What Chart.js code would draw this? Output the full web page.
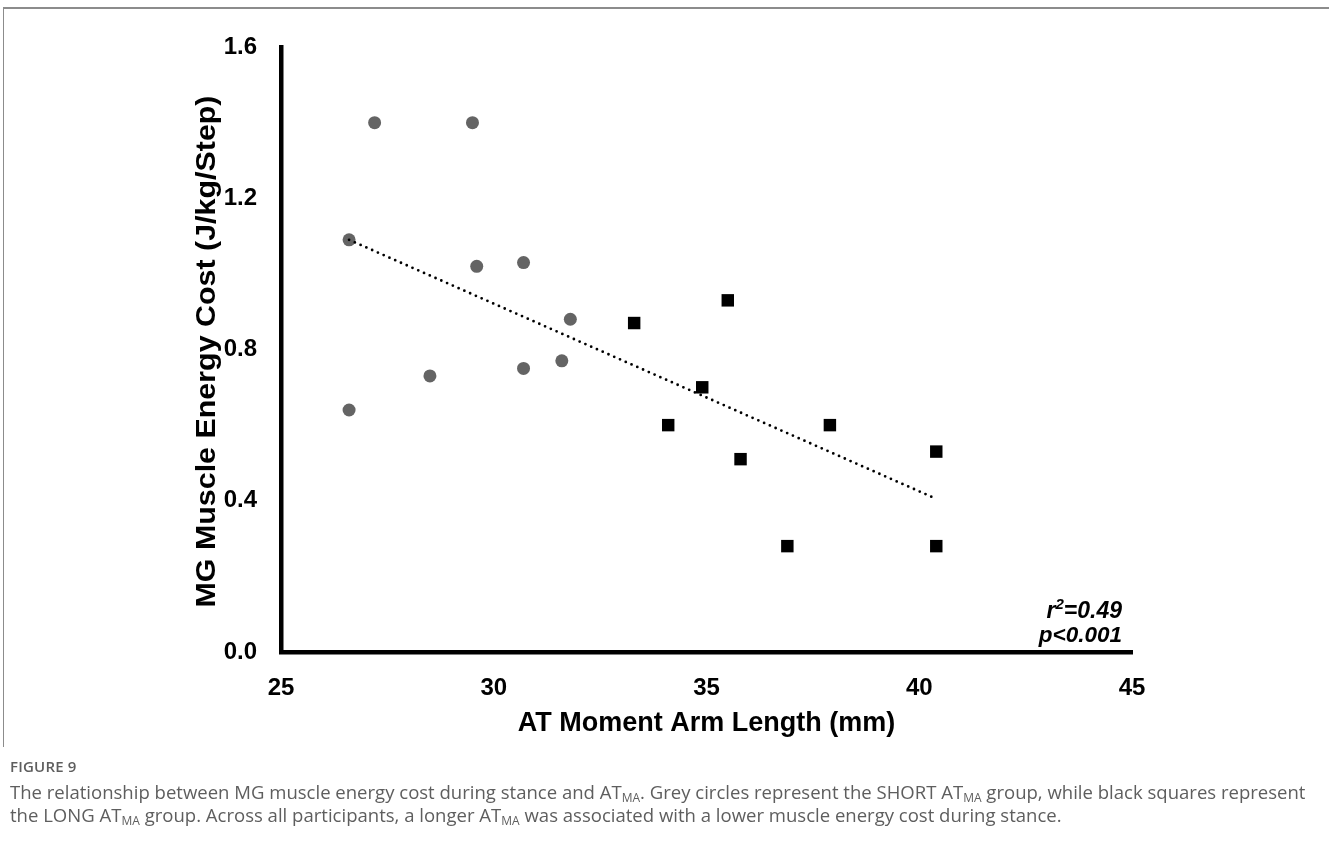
<!DOCTYPE html>
<html>
<head>
<meta charset="utf-8">
<script src="https://cdn.jsdelivr.net/npm/chart.js@4.4.0/dist/chart.umd.min.js"></script>
<style>
    body { margin: 0; background: #fff; width: 1329px; height: 843px; overflow: hidden; position: relative; font-family: 'Open Sans', sans-serif; }
    #frameTop { position: absolute; left: 3px; top: 7px; width: 1326px; height: 2px; background: #8c8c8c; }
    #frameLeft { position: absolute; left: 3px; top: 7px; width: 1px; height: 740px; background: #8c8c8c; }
    #wrap { position: absolute; left: 0; top: 0; width: 1329px; height: 760px; }
    #caption { position: absolute; left: 10px; top: 755px; color: #5e5e5e; }
    .fig { font-size: 15px; font-weight: 600; letter-spacing: 0.2px; line-height: 22px; margin-bottom: 3px; }
    .line { font-size: 18.55px; white-space: nowrap; line-height: 23px; }
    sub { font-size: 12px; vertical-align: -3px; line-height: 0; }
</style>
</head>
<body>
<div id="frameTop"></div>
<div id="frameLeft"></div>
<div id="wrap"><canvas id="chart" width="1329" height="760"></canvas></div>
<div id="caption">
    <div class="fig">FIGURE 9</div>
    <div class="line">The relationship between MG muscle energy cost during stance and AT<sub>MA</sub>. Grey circles represent the SHORT AT<sub>MA</sub> group, while black squares represent</div>
    <div class="line">the LONG AT<sub>MA</sub> group. Across all participants, a longer AT<sub>MA</sub> was associated with a lower muscle energy cost during stance.</div>
</div>
<script>
// Données
const shortX = [27.2, 29.5, 26.6, 29.6, 30.7, 31.8, 28.5, 30.7, 31.6, 26.6];
const shortY = [1.40, 1.40, 1.09, 1.02, 1.03, 0.88, 0.73, 0.75, 0.77, 0.64];
const longX = [33.3, 35.5, 34.9, 34.1, 37.9, 35.8, 40.4, 36.9, 40.4];
const longY = [0.87, 0.93, 0.70, 0.60, 0.60, 0.51, 0.53, 0.28, 0.28];
const trendX = [26.6, 40.3];
const trendY = [1.09, 0.41];
const xTicks = [25, 30, 35, 40, 45];
const yTicks = [0.0, 0.4, 0.8, 1.2, 1.6];
const xTitle = 'AT Moment Arm Length (mm)';
const yTitle = 'MG Muscle Energy Cost (J/kg/Step)';
const rText = ['r', '2', '=0.49'];
const pText = 'p<0.001';

function toPoints(xs, ys) {
    return xs.map((x, i) => ({ x: x, y: ys[i] }));
}

const FONT = '"Liberation Sans", Arial, sans-serif';

// Titres des axes et statistiques
const textPlugin = {
    id: 'textPlugin',
    afterDraw(chart) {
        const ctx = chart.ctx;
        const area = chart.chartArea;
        ctx.save();
        ctx.fillStyle = '#000';
        ctx.textBaseline = 'middle';
        ctx.textAlign = 'center';
        ctx.font = 'bold 27px ' + FONT;
        ctx.fillText(xTitle, (area.left + area.right) / 2, area.bottom + 72);

        // titre vertical, un peu étiré comme sur l'original
        ctx.save();
        ctx.font = 'bold 28px ' + FONT;
        ctx.translate(area.left - 74, (area.top + area.bottom) / 2 + 2);
        ctx.rotate(-Math.PI / 2);
        const tw = ctx.measureText(yTitle).width;
        ctx.scale(512 / tw, 1);
        ctx.fillText(yTitle, 0, 0);
        ctx.restore();

        // r² et p
        ctx.textBaseline = 'alphabetic';
        ctx.textAlign = 'left';
        const right = area.right - 10;
        const big = 'italic bold 23px ' + FONT;
        const small = 'italic bold 15px ' + FONT;
        ctx.font = big;
        const w0 = ctx.measureText(rText[0]).width;
        const w2 = ctx.measureText(rText[2]).width;
        ctx.font = small;
        const w1 = ctx.measureText(rText[1]).width;
        let x = right - (w0 + w1 + w2);
        const yR = area.bottom - 34;
        ctx.font = big;
        ctx.fillText(rText[0], x, yR);
        ctx.font = small;
        ctx.fillText(rText[1], x + w0, yR - 9);
        ctx.font = big;
        ctx.fillText(rText[2], x + w0 + w1, yR);
        ctx.font = 'italic bold 22.5px ' + FONT;
        ctx.textAlign = 'right';
        ctx.fillText(pText, right, area.bottom - 10);
        ctx.restore();
    }
};

const ctx = document.getElementById('chart').getContext('2d');
new Chart(ctx, {
    type: 'scatter',
    data: {
        datasets: [
            {
                type: 'line',
                label: 'Trend',
                data: toPoints(trendX, trendY),
                borderColor: '#000',
                borderWidth: 2.8,
                borderDash: [0, 6.3],
                borderCapStyle: 'round',
                pointRadius: 0,
                fill: false,
                order: 0
            },
            {
                label: 'SHORT',
                data: toPoints(shortX, shortY),
                backgroundColor: '#646464',
                borderColor: '#646464',
                borderWidth: 0,
                pointStyle: 'circle',
                pointRadius: 6.5,
                order: 1
            },
            {
                label: 'LONG',
                data: toPoints(longX, longY),
                backgroundColor: '#000',
                borderColor: '#000',
                borderWidth: 0,
                pointStyle: 'rect',
                pointRadius: 8.8,
                order: 1
            }
        ]
    },
    options: {
        responsive: false,
        animation: false,
        maintainAspectRatio: false,
        layout: { padding: { left: 0, right: 197, top: 47, bottom: 0 } },
        plugins: { legend: { display: false }, tooltip: { enabled: false } },
        scales: {
            x: {
                type: 'linear',
                min: 25,
                max: 45,
                afterBuildTicks: s => { s.ticks = xTicks.map(v => ({ value: v })); },
                afterFit: s => { s.height = 108; },
                grid: { display: false, drawTicks: false },
                border: { display: true, color: '#000', width: 4.5 },
                ticks: { color: '#000', padding: 22, font: { family: FONT, size: 24, weight: 'bold' }, maxRotation: 0 }
            },
            y: {
                type: 'linear',
                min: 0,
                max: 1.6,
                afterBuildTicks: s => { s.ticks = yTicks.map(v => ({ value: v })); },
                afterFit: s => { s.width = 281; },
                grid: { display: false, drawTicks: false },
                border: { display: true, color: '#000', width: 4.5 },
                ticks: { color: '#000', padding: 24, font: { family: FONT, size: 24, weight: 'bold' }, callback: v => v.toFixed(1) }
            }
        }
    },
    plugins: [textPlugin]
});
</script>
</body>
</html>
